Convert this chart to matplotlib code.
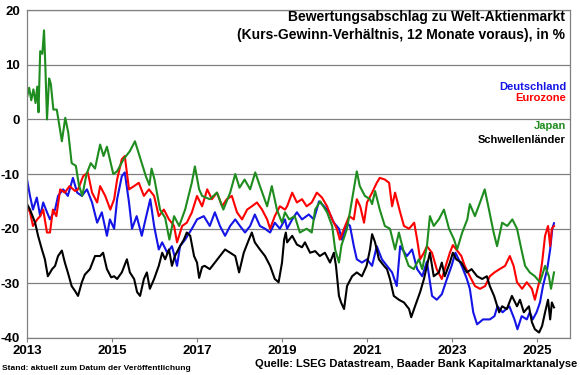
import numpy as np
import matplotlib
matplotlib.use("Agg")
import matplotlib.pyplot as plt

plt.rcParams['font.family'] = ['Liberation Sans', 'DejaVu Sans']
plt.rcParams['font.weight'] = 'bold'

deutschland = [
    (2013.00, -11.0), (2013.07, -14.0), (2013.14, -16.5), (2013.23, -14.3), (2013.31, -17.7),
    (2013.38, -15.2), (2013.47, -17.0), (2013.54, -18.3), (2013.66, -16.5), (2013.73, -14.0),
    (2013.85, -12.8), (2013.96, -14.0), (2014.08, -10.7), (2014.18, -13.4), (2014.29, -14.0),
    (2014.41, -12.8), (2014.53, -15.2), (2014.65, -18.9), (2014.76, -17.0), (2014.88, -21.3),
    (2014.95, -18.3), (2015.05, -20.0), (2015.12, -14.6), (2015.23, -10.4), (2015.30, -9.7),
    (2015.40, -15.2), (2015.47, -20.0), (2015.58, -17.7), (2015.70, -21.3), (2015.77, -18.9),
    (2015.90, -14.6), (2015.99, -19.5), (2016.10, -23.8), (2016.18, -22.5), (2016.30, -24.4),
    (2016.41, -23.2), (2016.53, -26.8), (2016.60, -23.2), (2016.72, -22.0), (2016.88, -20.0),
    (2017.00, -18.3), (2017.16, -17.7), (2017.30, -19.5), (2017.42, -17.0), (2017.54, -19.5),
    (2017.66, -21.3), (2017.78, -19.5), (2017.90, -18.3), (2018.01, -19.5), (2018.13, -20.7),
    (2018.25, -19.5), (2018.36, -17.4), (2018.48, -19.5), (2018.60, -20.0), (2018.72, -20.7),
    (2018.83, -18.9), (2018.95, -20.0), (2019.07, -18.3), (2019.12, -20.0), (2019.24, -18.3),
    (2019.35, -17.0), (2019.47, -18.3), (2019.63, -17.4), (2019.75, -18.3), (2019.87, -15.0),
    (2019.99, -15.9), (2020.11, -17.0), (2020.22, -18.9), (2020.34, -20.0), (2020.41, -22.0),
    (2020.53, -18.9), (2020.60, -19.5), (2020.69, -23.2), (2020.76, -25.6), (2020.88, -26.2),
    (2021.00, -25.6), (2021.12, -26.8), (2021.23, -23.2), (2021.35, -25.6), (2021.47, -26.8),
    (2021.59, -28.0), (2021.70, -30.5), (2021.78, -23.2), (2021.94, -25.0), (2022.06, -23.8),
    (2022.18, -27.4), (2022.30, -28.7), (2022.41, -26.0), (2022.53, -32.3), (2022.64, -33.0),
    (2022.76, -32.0), (2022.88, -29.2), (2022.99, -26.8), (2023.08, -24.4), (2023.15, -25.5),
    (2023.24, -27.0), (2023.35, -29.2), (2023.42, -31.0), (2023.50, -35.3), (2023.59, -37.5),
    (2023.73, -36.6), (2023.89, -36.6), (2024.00, -36.0), (2024.07, -34.2), (2024.19, -35.3),
    (2024.35, -34.2), (2024.47, -36.6), (2024.54, -38.4), (2024.64, -36.0), (2024.76, -36.6),
    (2024.83, -35.3), (2024.90, -36.6), (2024.99, -35.3), (2025.07, -33.5), (2025.14, -30.5),
    (2025.24, -27.4), (2025.31, -23.8), (2025.36, -20.0), (2025.40, -19.0),
]

eurozone = [
    (2013.00, -15.9), (2013.07, -17.0), (2013.14, -19.5), (2013.24, -18.3), (2013.31, -17.7),
    (2013.38, -16.5), (2013.47, -20.7), (2013.54, -20.7), (2013.61, -16.5), (2013.69, -17.7),
    (2013.78, -12.8), (2013.89, -13.4), (2014.00, -12.2), (2014.13, -13.1), (2014.20, -12.8),
    (2014.32, -10.4), (2014.43, -9.7), (2014.53, -13.4), (2014.65, -15.2), (2014.72, -12.2),
    (2014.84, -14.0), (2014.96, -16.5), (2015.05, -14.6), (2015.12, -11.0), (2015.23, -7.3),
    (2015.30, -6.7), (2015.40, -12.8), (2015.52, -12.2), (2015.63, -11.6), (2015.75, -14.0),
    (2015.87, -12.8), (2015.99, -14.0), (2016.10, -17.7), (2016.22, -16.5), (2016.34, -18.3),
    (2016.46, -19.5), (2016.53, -22.5), (2016.65, -19.5), (2016.76, -18.9), (2016.88, -17.0),
    (2017.00, -14.0), (2017.12, -15.9), (2017.24, -12.8), (2017.35, -14.6), (2017.47, -13.4),
    (2017.59, -15.9), (2017.70, -14.6), (2017.82, -14.0), (2017.94, -17.0), (2018.06, -18.3),
    (2018.18, -16.5), (2018.29, -15.9), (2018.41, -15.2), (2018.53, -16.5), (2018.65, -18.3),
    (2018.72, -20.0), (2018.83, -17.7), (2018.95, -15.9), (2019.07, -16.5), (2019.12, -15.9),
    (2019.24, -13.4), (2019.35, -15.2), (2019.47, -14.6), (2019.58, -15.9), (2019.70, -15.2),
    (2019.82, -13.4), (2019.94, -14.3), (2020.06, -15.9), (2020.18, -18.3), (2020.29, -20.0),
    (2020.36, -22.0), (2020.46, -20.0), (2020.58, -17.7), (2020.69, -18.3), (2020.76, -14.6),
    (2020.84, -15.9), (2020.93, -18.9), (2021.00, -15.2), (2021.12, -13.4), (2021.23, -11.6),
    (2021.30, -10.7), (2021.42, -11.0), (2021.52, -11.6), (2021.59, -15.9), (2021.66, -13.4),
    (2021.78, -17.0), (2021.87, -19.5), (2021.99, -20.0), (2022.11, -18.9), (2022.18, -22.0),
    (2022.25, -25.6), (2022.34, -24.4), (2022.41, -23.2), (2022.53, -24.4), (2022.64, -27.4),
    (2022.76, -29.2), (2022.83, -27.4), (2022.95, -24.4), (2023.02, -23.0), (2023.10, -23.8),
    (2023.22, -25.0), (2023.30, -26.8), (2023.42, -28.7), (2023.54, -30.5), (2023.66, -31.0),
    (2023.78, -30.5), (2023.89, -28.7), (2024.00, -28.0), (2024.12, -27.4), (2024.25, -26.8),
    (2024.36, -25.0), (2024.45, -26.8), (2024.53, -29.8), (2024.65, -31.0), (2024.76, -29.8),
    (2024.88, -31.0), (2024.95, -33.0), (2025.05, -29.8), (2025.12, -26.2), (2025.19, -21.3),
    (2025.26, -19.5), (2025.31, -23.2), (2025.35, -20.0), (2025.40, -19.5),
]

japan = [
    (2013.00, 4.0), (2013.05, 5.8), (2013.10, 3.5), (2013.15, 5.5), (2013.20, 3.0),
    (2013.24, 6.0), (2013.27, 1.3), (2013.31, 12.5), (2013.36, 12.0), (2013.40, 16.3),
    (2013.43, 10.0), (2013.47, 0.0), (2013.52, 7.5), (2013.56, 6.5), (2013.62, 1.8),
    (2013.70, 1.8), (2013.75, -0.6), (2013.82, -4.0), (2013.90, 0.3), (2013.97, -2.4),
    (2014.05, -8.0), (2014.15, -8.5), (2014.22, -12.0), (2014.30, -14.0), (2014.40, -10.0),
    (2014.50, -8.0), (2014.60, -9.0), (2014.72, -4.6), (2014.80, -6.7), (2014.88, -5.0),
    (2015.03, -10.0), (2015.12, -9.5), (2015.27, -7.3), (2015.42, -5.8), (2015.54, -4.0),
    (2015.66, -7.0), (2015.80, -10.5), (2015.88, -12.0), (2015.93, -9.0), (2016.00, -11.0),
    (2016.13, -16.5), (2016.25, -18.0), (2016.35, -22.0), (2016.46, -17.7), (2016.58, -19.5),
    (2016.72, -16.5), (2016.88, -11.5), (2016.95, -8.6), (2017.05, -12.8), (2017.12, -14.0),
    (2017.30, -14.6), (2017.47, -13.4), (2017.62, -16.5), (2017.78, -13.4), (2017.90, -10.0),
    (2018.00, -12.5), (2018.12, -11.0), (2018.25, -12.8), (2018.37, -9.7), (2018.48, -12.2),
    (2018.65, -15.9), (2018.76, -12.2), (2018.88, -16.5), (2019.00, -18.9), (2019.07, -17.0),
    (2019.17, -18.3), (2019.30, -17.7), (2019.42, -20.7), (2019.58, -20.0), (2019.70, -20.7),
    (2019.78, -16.5), (2019.90, -15.0), (2020.06, -17.0), (2020.18, -19.5), (2020.25, -23.8),
    (2020.34, -26.2), (2020.40, -23.0), (2020.53, -20.0), (2020.65, -14.6), (2020.76, -9.5),
    (2020.83, -12.2), (2020.95, -14.0), (2021.07, -14.6), (2021.12, -15.5), (2021.19, -13.1),
    (2021.30, -16.5), (2021.42, -19.5), (2021.54, -20.0), (2021.66, -23.8), (2021.75, -20.7),
    (2021.87, -24.4), (2021.98, -26.8), (2022.10, -27.4), (2022.22, -25.6), (2022.30, -27.4),
    (2022.41, -23.2), (2022.48, -17.7), (2022.57, -19.5), (2022.69, -18.3), (2022.81, -16.5),
    (2022.93, -20.0), (2023.05, -22.0), (2023.12, -23.8), (2023.24, -20.7), (2023.36, -18.3),
    (2023.42, -15.5), (2023.54, -17.7), (2023.66, -15.2), (2023.77, -12.8), (2023.87, -16.5),
    (2023.98, -20.7), (2024.06, -23.2), (2024.18, -18.9), (2024.30, -19.5), (2024.42, -18.3),
    (2024.53, -20.0), (2024.65, -24.4), (2024.72, -26.8), (2024.83, -28.0), (2024.95, -28.7),
    (2025.07, -29.8), (2025.19, -26.8), (2025.28, -28.7), (2025.33, -31.0), (2025.40, -28.0),
]

schwellen = [
    (2013.00, -15.5), (2013.07, -16.5), (2013.19, -18.9), (2013.26, -21.3), (2013.35, -23.8),
    (2013.42, -25.6), (2013.49, -28.7), (2013.59, -27.4), (2013.66, -26.8), (2013.73, -25.0),
    (2013.82, -24.0), (2013.89, -26.2), (2013.96, -28.0), (2014.05, -30.5), (2014.13, -31.4),
    (2014.20, -32.3), (2014.29, -29.8), (2014.36, -28.4), (2014.48, -27.4), (2014.60, -25.0),
    (2014.72, -25.0), (2014.79, -24.4), (2014.88, -27.4), (2014.98, -28.9), (2015.05, -28.7),
    (2015.12, -29.2), (2015.23, -28.0), (2015.35, -25.6), (2015.42, -28.0), (2015.52, -29.2),
    (2015.59, -31.6), (2015.66, -32.3), (2015.75, -29.2), (2015.82, -28.0), (2015.89, -31.0),
    (2015.99, -29.2), (2016.10, -26.8), (2016.18, -24.4), (2016.25, -25.6), (2016.34, -23.8),
    (2016.41, -26.8), (2016.48, -25.0), (2016.60, -23.2), (2016.69, -22.0), (2016.76, -20.7),
    (2016.84, -21.3), (2016.93, -25.0), (2017.00, -26.2), (2017.05, -29.0), (2017.12, -27.0),
    (2017.18, -26.8), (2017.30, -27.4), (2017.42, -26.2), (2017.54, -25.0), (2017.66, -23.8),
    (2017.78, -24.4), (2017.90, -25.0), (2017.99, -28.0), (2018.10, -24.4), (2018.22, -22.0),
    (2018.29, -20.7), (2018.36, -22.5), (2018.48, -23.8), (2018.60, -25.0), (2018.72, -26.8),
    (2018.83, -29.2), (2018.92, -29.8), (2019.00, -26.2), (2019.05, -22.0), (2019.09, -20.7),
    (2019.12, -22.5), (2019.24, -21.3), (2019.35, -22.9), (2019.47, -23.4), (2019.54, -22.5),
    (2019.66, -24.4), (2019.78, -24.1), (2019.89, -25.0), (2020.01, -24.4), (2020.13, -26.2),
    (2020.22, -24.4), (2020.27, -26.8), (2020.34, -32.3), (2020.39, -33.5), (2020.46, -34.7),
    (2020.53, -30.5), (2020.65, -28.7), (2020.76, -28.0), (2020.88, -28.7), (2020.99, -26.8),
    (2021.07, -23.8), (2021.12, -21.0), (2021.19, -22.5), (2021.28, -25.6), (2021.40, -26.8),
    (2021.47, -27.4), (2021.54, -29.2), (2021.63, -32.3), (2021.75, -33.0), (2021.87, -33.5),
    (2021.99, -34.7), (2022.04, -36.2), (2022.13, -34.2), (2022.25, -31.6), (2022.34, -29.2),
    (2022.41, -26.8), (2022.48, -24.4), (2022.57, -28.7), (2022.69, -28.0), (2022.76, -26.2),
    (2022.83, -28.7), (2022.95, -26.2), (2023.02, -24.4), (2023.10, -25.6), (2023.22, -26.2),
    (2023.35, -28.0), (2023.46, -27.4), (2023.59, -28.7), (2023.71, -29.2), (2023.82, -28.7),
    (2023.89, -30.5), (2023.99, -32.3), (2024.11, -35.3), (2024.18, -34.2), (2024.29, -34.7),
    (2024.41, -32.3), (2024.53, -34.2), (2024.60, -33.0), (2024.69, -35.3), (2024.81, -34.2),
    (2024.88, -37.1), (2024.95, -38.4), (2025.05, -39.0), (2025.12, -37.8), (2025.19, -35.3),
    (2025.26, -33.0), (2025.31, -36.6), (2025.35, -33.5), (2025.40, -34.4),
]

series = [
    ("Deutschland", deutschland, "#1414e6"),
    ("Eurozone", eurozone, "#ff0000"),
    ("Japan", japan, "#1e8c1e"),
    ("Schwellenländer", schwellen, "#000000"),
]

year_ticks = [2013, 2015, 2017, 2019, 2021, 2023, 2025]
y_ticks = [-40, -30, -20, -10, 0, 10, 20]

fig = plt.figure(figsize=(5.8, 3.75), dpi=100)
ax = fig.add_axes([0.0466, 0.0987, 0.9364, 0.8743])

for name, data, col in series:
    t, v = zip(*data)
    ax.plot(t, v, color=col, lw=1.5, solid_joinstyle='round')

ax.set_xlim(2013, 2025.78)
ax.set_ylim(-40, 20)
ax.set_xticks(year_ticks)
ax.set_yticks(y_ticks)
ax.set_xticklabels([str(y) for y in year_ticks], fontsize=9.5, fontweight='bold')
ax.set_yticklabels([str(y) for y in y_ticks], fontsize=9.5, fontweight='bold')
ax.tick_params(axis='x', length=3, color='#808080', pad=2)
ax.tick_params(axis='y', length=0, pad=5)
ax.grid(axis='y', color='#808080', lw=0.9)
ax.set_axisbelow(True)
for s in ax.spines.values():
    s.set_color('#808080')
    s.set_linewidth(0.9)

fig.text(0.974, 0.955, "Bewertungsabschlag zu Welt-Aktienmarkt", ha='right', va='center',
         fontsize=10, fontweight='bold')
fig.text(0.974, 0.907, "(Kurs-Gewinn-Verhältnis, 12 Monate voraus), in %", ha='right',
         va='center', fontsize=10, fontweight='bold')

label_y = [0.768, 0.739, 0.664, 0.627]
for (name, data, col), ly in zip(series, label_y):
    fig.text(0.976, ly, name, ha='right', va='center', color=col, fontsize=8, fontweight='bold')

fig.text(0.995, 0.030, "Quelle: LSEG Datastream, Baader Bank Kapitalmarktanalyse", ha='right',
         va='center', fontsize=8, fontweight='bold')
fig.text(0.004, 0.018, "Stand: aktuell zum Datum der Veröffentlichung", ha='left',
         va='center', fontsize=6, fontweight='bold')

fig.savefig("out.png", dpi=100)
